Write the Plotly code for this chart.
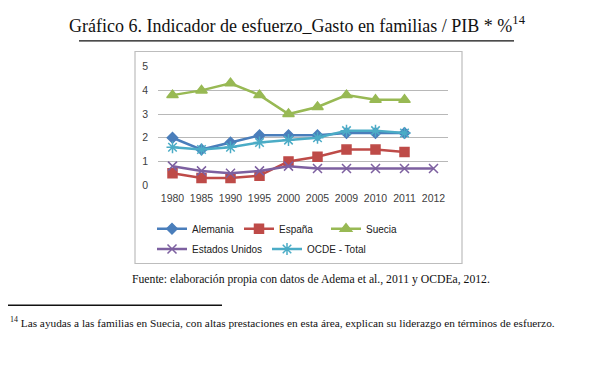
import plotly.graph_objects as go

years = ["1980", "1985", "1990", "1995", "2000", "2005", "2009", "2010", "2011", "2012"]
alemania = [2.0, 1.5, 1.8, 2.1, 2.1, 2.1, 2.2, 2.2, 2.2, None]
espana = [0.5, 0.3, 0.3, 0.4, 1.0, 1.2, 1.5, 1.5, 1.4, None]
suecia = [3.8, 4.0, 4.3, 3.8, 3.0, 3.3, 3.8, 3.6, 3.6, None]
eeuu = [0.8, 0.6, 0.5, 0.6, 0.8, 0.7, 0.7, 0.7, 0.7, 0.7]
ocde = [1.6, 1.5, 1.6, 1.8, 1.9, 2.0, 2.3, 2.3, 2.2, None]
y_ticks = [0, 1, 2, 3, 4, 5]

W, H = 601, 376
def px(x): return x / W
def py(y): return 1 - y / H

fig = go.Figure()
series = [
    ("Alemania", alemania, "#4a7ebb", "diamond", 8, "legend"),
    ("España", espana, "#be4b48", "square", 9, "legend"),
    ("Suecia", suecia, "#98b954", "triangle-up", 10, "legend"),
    ("Estados Unidos", eeuu, "#7d60a0", "x-thin-open", 9, "legend2"),
    ("OCDE - Total", ocde, "#4bacc6", "asterisk-open", 10, "legend2"),
]
for name, vals, col, sym, size, leg in series:
    fig.add_trace(go.Scatter(
        x=years, y=vals, name=name, mode="lines+markers", legend=leg,
        line=dict(color=col, width=2.5),
        marker=dict(color=col, symbol=sym, size=size, line=dict(color=col, width=1.5)),
        cliponaxis=False,
    ))

tickfont = dict(family="Liberation Sans, Arial, sans-serif", size=10.5, color="#404040")
legfont = dict(family="Liberation Sans, Arial, sans-serif", size=10, color="#202020")
serif = "Liberation Serif, Times New Roman, serif"

fig.update_layout(
    width=W, height=H,
    margin=dict(l=0, r=0, t=0, b=0),
    paper_bgcolor="white", plot_bgcolor="white",
    showlegend=True,
    xaxis=dict(domain=[px(158), px(448)], type="category", range=[-0.5, 9.5],
               showgrid=False, showline=False, zeroline=False, tickfont=tickfont,
               ticks="", ticklabelstandoff=5, fixedrange=True),
    yaxis=dict(domain=[py(185), py(62.7)], range=[0, 5], tickvals=y_ticks,
               showgrid=True, gridcolor="#b8b8b8", gridwidth=1, zeroline=False,
               showline=False, tickfont=tickfont, ticks="", ticklabelstandoff=9),
    legend=dict(orientation="h", x=px(152), y=py(215), xanchor="left", yanchor="top",
                font=legfont, entrywidthmode="pixels", entrywidth=42,
                bgcolor="rgba(0,0,0,0)", itemwidth=30),
    legend2=dict(orientation="h", x=px(152), y=py(236), xanchor="left", yanchor="top",
                 font=legfont, entrywidthmode="pixels", entrywidth=70,
                 bgcolor="rgba(0,0,0,0)", itemwidth=30),
    shapes=[
        dict(type="rect", xref="paper", yref="paper", x0=px(135), x1=px(462), y0=py(266), y1=py(47),
             line=dict(color="#bdbdbd", width=1.2), layer="below"),
        dict(type="line", xref="paper", yref="paper", x0=px(79), x1=px(514), y0=py(36), y1=py(36),
             line=dict(color="#111111", width=1.3)),
        dict(type="line", xref="paper", yref="paper", x0=px(8), x1=px(222), y0=py(309), y1=py(309),
             line=dict(color="#111111", width=1.5)),
    ],
    annotations=[
        dict(text="Gráfico 6. Indicador de esfuerzo_Gasto en familias / PIB * %<sup>14</sup>",
             xref="paper", yref="paper", x=px(297), y=py(19), xanchor="center", yanchor="middle",
             showarrow=False, font=dict(family=serif, size=18, color="#111111")),
        dict(text="Fuente: elaboración propia con datos de Adema et al., 2011 y OCDEa, 2012.",
             xref="paper", yref="paper", x=px(311), y=py(283), xanchor="center", yanchor="middle",
             showarrow=False, font=dict(family=serif, size=11.7, color="#111111")),
        dict(text="<sup>14</sup> Las ayudas a las familias en Suecia, con altas prestaciones en esta área, explican su liderazgo en términos de esfuerzo.",
             xref="paper", yref="paper", x=px(8), y=py(326), xanchor="left", yanchor="middle",
             showarrow=False, font=dict(family=serif, size=11.3, color="#111111")),
    ],
)

fig.write_html("out.html", config={"displayModeBar": False},
               post_script="document.body.style.margin='0';document.body.style.overflow='hidden';")
